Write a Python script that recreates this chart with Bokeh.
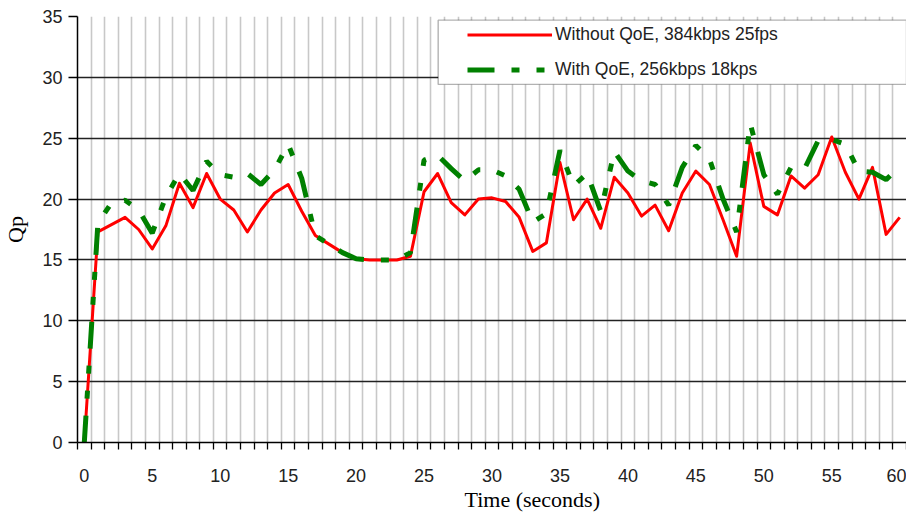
from bokeh.plotting import figure
from bokeh.models import FixedTicker, Legend, LegendItem, BoxAnnotation, Range1d, Title
from bokeh.embed import file_html
from bokeh.resources import INLINE

# ---- data ----
time_s = list(range(61))
qp_without = [0, 17.3, 17.9, 18.5, 17.5, 15.9, 17.8, 21.3, 19.3, 22.1, 20.0,
              19.1, 17.3, 19.1, 20.5, 21.2, 19.0, 17.0, 16.3, 15.6, 15.1,
              15.0, 15.0, 15.0, 15.3, 20.6, 22.1, 19.7, 18.7, 20.0, 20.1,
              19.8, 18.5, 15.7, 16.4, 23.0, 18.3, 20.0, 17.6, 21.8, 20.5,
              18.6, 19.5, 17.4, 20.5, 22.3, 21.2, 18.3, 15.3, 24.6, 19.4,
              18.7, 21.9, 20.9, 22.0, 25.1, 22.2, 20.0, 22.6, 17.1, 18.5]
qp_with = [0, 18.0, 19.7, 19.9, 19.1, 17.2, 20.2, 22.1, 20.7, 23.1, 22.0,
           21.8, 22.1, 21.2, 22.4, 24.5, 21.7, 17.0, 16.3, 15.6, 15.1,
           15.0, 15.0, 15.0, 15.6, 23.2, 23.6, 22.5, 21.5, 22.4, 22.4,
           21.9, 20.8, 18.1, 18.8, 24.0, 21.1, 22.1, 19.0, 23.9, 22.3,
           21.5, 21.2, 19.5, 22.6, 24.4, 23.3, 20.0, 17.3, 26.2, 22.0,
           20.4, 22.6, 22.5, 24.8, 24.9, 24.5, 22.3, 22.2, 21.6, 22.7]
x_ticks = [0, 5, 10, 15, 20, 25, 30, 35, 40, 45, 50, 55, 60]
y_ticks = [0, 5, 10, 15, 20, 25, 30, 35]
label_without = "Without QoE, 384kbps 25fps"
label_with = "With QoE, 256kbps 18kps"
x_title = "Time (seconds)"
y_title = "Qp"

# ---- figure ----
p = figure(width=906, height=513, output_backend="svg", toolbar_location=None,
           x_range=Range1d(-0.5, 60.5), y_range=Range1d(0, 35),
           min_border_left=70, min_border_right=0, min_border_top=16,
           min_border_bottom=71)
p.outline_line_color = None
p.background_fill_color = "white"
p.border_fill_color = "white"

half_steps = [i - 0.5 for i in range(0, 62)]

# grids
p.xgrid.ticker = FixedTicker(ticks=half_steps[1:])
p.xgrid.grid_line_color = "#c8c8c8"
p.xgrid.grid_line_width = 1.6
p.ygrid.ticker = FixedTicker(ticks=y_ticks[1:])
p.ygrid.grid_line_color = "#222222"
p.ygrid.grid_line_width = 1.4

# x axis
p.xaxis.ticker = FixedTicker(ticks=x_ticks, minor_ticks=half_steps)
p.xaxis.major_tick_out = 0
p.xaxis.major_tick_in = 0
p.xaxis.minor_tick_out = 7
p.xaxis.minor_tick_in = 0
p.xaxis.minor_tick_line_color = "black"
p.xaxis.minor_tick_line_width = 1.3
p.xaxis.axis_line_color = "black"
p.xaxis.axis_line_width = 1.5
p.xaxis.major_label_standoff = 19
p.xaxis.major_label_text_font = "Liberation Sans"
p.xaxis.major_label_text_font_size = "18px"
p.xaxis.major_label_text_color = "#222222"

# y axis
p.yaxis.ticker = FixedTicker(ticks=y_ticks, minor_ticks=[])
p.yaxis.major_tick_out = 9
p.yaxis.major_tick_in = 0
p.yaxis.major_tick_line_color = "black"
p.yaxis.major_tick_line_width = 1.3
p.yaxis.axis_line_color = "black"
p.yaxis.axis_line_width = 1.5
p.yaxis.major_label_standoff = 6
p.yaxis.major_label_text_font = "Liberation Sans"
p.yaxis.major_label_text_font_size = "18px"
p.yaxis.major_label_text_color = "#222222"
p.yaxis.axis_label = y_title
p.yaxis.axis_label_text_font = "Liberation Serif"
p.yaxis.axis_label_text_font_size = "22px"
p.yaxis.axis_label_text_font_style = "normal"
p.yaxis.axis_label_text_color = "black"
p.yaxis.axis_label_standoff = 11

# series
r_red = p.line(time_s, qp_without, line_color="#ff0000", line_width=3,
               line_join="round")
r_green = p.line(time_s, qp_with, line_color="#008000", line_width=5,
                 line_dash="27 17 8 17 8 17")

# legend frame + legend
box = BoxAnnotation(left=26.04, right=60.5, top=34.70, bottom=29.42,
                    fill_color="white", fill_alpha=1.0,
                    line_color="black", line_width=1.4)
p.add_layout(box)

legend = Legend(items=[LegendItem(label=label_without, renderers=[r_red]),
                       LegendItem(label=label_with, renderers=[r_green])],
                location=(390, 360), glyph_width=85, glyph_height=25,
                spacing=10, padding=0, margin=0, label_standoff=3,
                border_line_color=None, background_fill_alpha=0,
                label_text_font="Liberation Sans",
                label_text_font_size="17.5px", label_text_color="#222222")
p.add_layout(legend)

# x title, left-aligned with an offset so it sits right of centre as in the reference
p.add_layout(Title(text=x_title, align="left", offset=387, standoff=1,
                   text_font="Liberation Serif", text_font_size="22px",
                   text_font_style="normal", text_color="black"), "below")

open("out.html", "w").write(file_html(p, INLINE))
